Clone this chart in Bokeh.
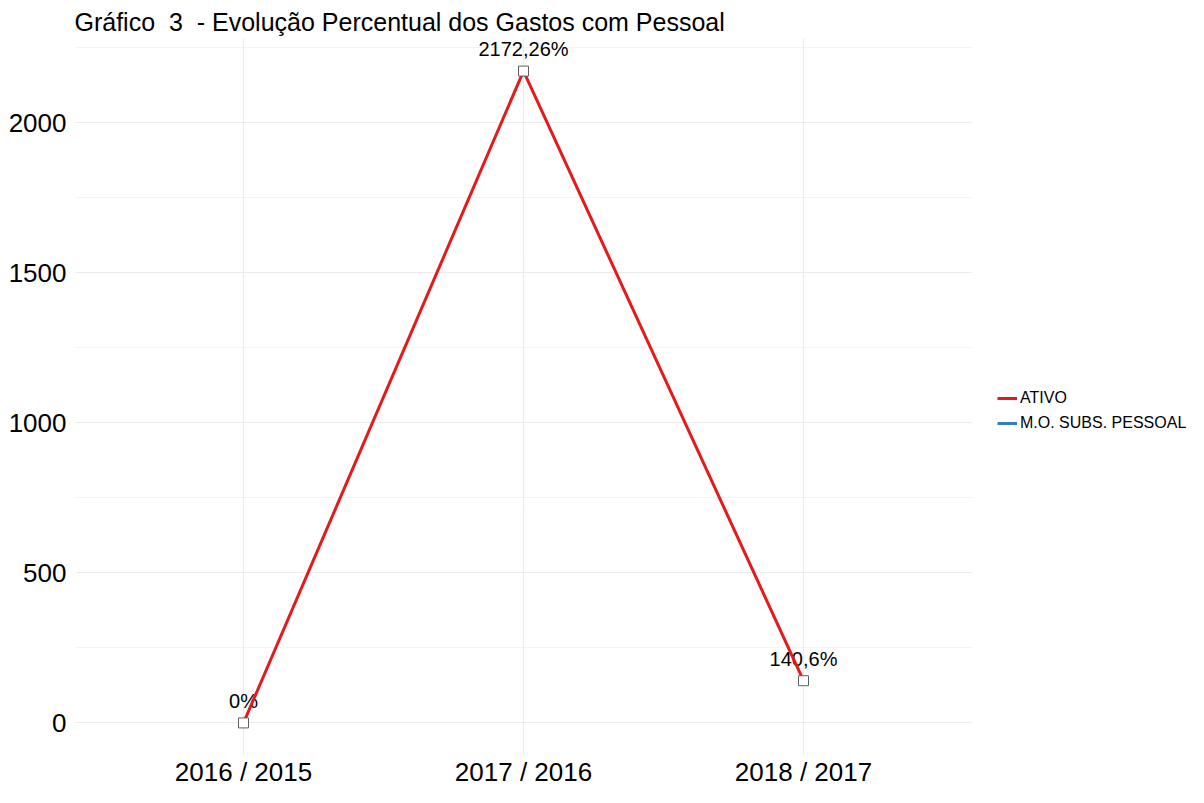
from bokeh.plotting import figure
from bokeh.models import Range1d, Legend, LegendItem, SingleIntervalTicker, FixedTicker, ColumnDataSource
from bokeh.core.properties import value
from bokeh.embed import file_html
from bokeh.resources import INLINE

# ---- data ----
categories = ["2016 / 2015", "2017 / 2016", "2018 / 2017"]
ativo = [0.0, 2172.26, 140.6]
mo_subs_pessoal = [float("nan"), float("nan"), float("nan")]  # not drawn in the reference
series_names = ["ATIVO", "M.O. SUBS. PESSOAL"]
series_colors = ["#E41A1C", "#377EB8"]
title_text = "Gráfico\u00a0 3\u00a0 - Evolução Percentual dos Gastos com Pessoal"

FONT = "Liberation Sans"

xpos = list(range(1, len(categories) + 1))
labels = [(f"{v:g}".replace(".", ",") + "%") for v in ativo]

ymin, ymax = min(ativo), max(ativo)
pad = 0.05 * (ymax - ymin)

p = figure(frame_width=896, frame_height=717, output_backend="svg", toolbar_location=None,
           x_range=Range1d(0.4, len(categories) + 0.6),
           y_range=Range1d(ymin - pad, ymax + pad),
           min_border_left=75, min_border_right=217, min_border_top=38, min_border_bottom=32)

p.outline_line_color = None
p.background_fill_color = "white"
p.border_fill_color = "white"

# title
p.title.text = title_text
p.title.text_font = FONT
p.title.text_font_size = "25px"
p.title.text_font_style = "normal"
p.title.text_color = "black"
p.title.align = "left"
p.title.offset = -1
p.title.standoff = 6

# axes
p.xaxis.ticker = FixedTicker(ticks=xpos)
p.xaxis.major_label_overrides = {x: c for x, c in zip(xpos, categories)}
p.yaxis.ticker = SingleIntervalTicker(interval=500, num_minor_ticks=2)
for ax in (p.xaxis, p.yaxis):
    ax.axis_line_color = None
    ax.major_tick_line_color = None
    ax.minor_tick_line_color = None
    ax.major_tick_out = 0
    ax.major_tick_in = 0
    ax.minor_tick_out = 0
    ax.minor_tick_in = 0
    ax.major_label_text_font = FONT
    ax.major_label_text_color = "black"
p.xaxis.major_label_text_font_size = "26px"
p.yaxis.major_label_text_font_size = "26px"
p.xaxis.major_label_standoff = 1
p.yaxis.major_label_standoff = 9

# grid
p.xgrid.ticker = FixedTicker(ticks=xpos)
p.xgrid.grid_line_color = "#EBEBEB"
p.xgrid.grid_line_width = 1.1
p.ygrid.grid_line_color = "#EBEBEB"
p.ygrid.grid_line_width = 1.1
p.ygrid.minor_grid_line_color = "#EBEBEB"
p.ygrid.minor_grid_line_width = 0.6

src = ColumnDataSource(dict(x=xpos, y=ativo, label=labels))

# labels (drawn first, line passes over them)
p.text(x="x", y="y", text="label", source=src, text_align="center",
       text_baseline="bottom", y_offset=-11,
       text_font=value(FONT), text_font_size="20px", text_color="black")

blue = p.line(x=xpos, y=mo_subs_pessoal, line_color=series_colors[1], line_width=3)
red = p.line(x="x", y="y", source=src, line_color=series_colors[0], line_width=3)

p.scatter(x="x", y="y", source=src, marker="square", size=10,
          fill_color="white", line_color="#606060", line_width=1)

legend = Legend(items=[LegendItem(label=series_names[0], renderers=[red]),
                       LegendItem(label=series_names[1], renderers=[blue])],
                location=(26, 323), margin=0, padding=0,
                glyph_width=20, glyph_height=16, label_standoff=3, spacing=7,
                label_text_font=FONT, label_text_font_size="16px",
                label_text_color="black", background_fill_alpha=0,
                border_line_color=None)
p.add_layout(legend, "right")

open("out.html", "w").write(file_html(p, INLINE))
